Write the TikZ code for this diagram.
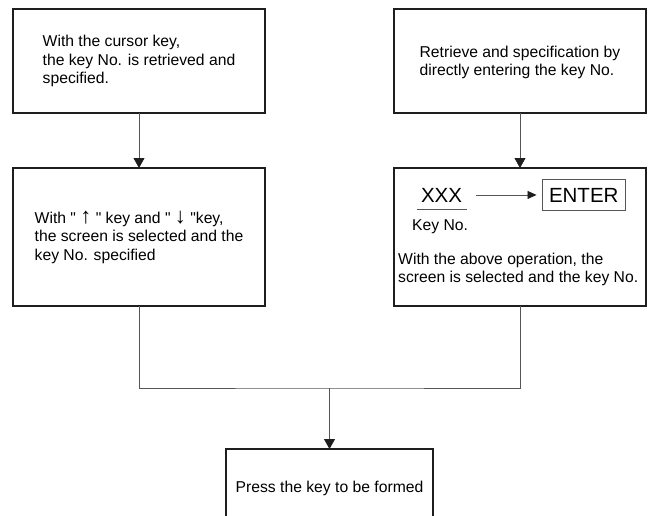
\documentclass[tikz,border=0pt]{standalone}
\usepackage{fontspec}
\setmainfont{Liberation Sans}[Ligatures=TeXOff]
\usetikzlibrary{positioning,arrows.meta,calc}
\definecolor{boxline}{HTML}{1E1E1E}
\definecolor{linkline}{HTML}{555555}
\newcommand\keyarrow[1]{{\fontsize{22pt}{18.5pt}\selectfont #1}}
\tikzset{
  stepbox/.style={draw=boxline,line width=1.3pt,outer sep=0pt,minimum width=252pt,
    align=left,font=\fontsize{15.7pt}{18.5pt}\selectfont},
  note/.style={inner sep=0pt,align=left,font=\fontsize{15.7pt}{18.5pt}\selectfont},
  bigtxt/.style={inner xsep=4.5pt,inner ysep=7pt,outer sep=0pt,font=\fontsize{20.5pt}{24pt}\selectfont},
  keybox/.style={draw=linkline,line width=0.8pt,inner xsep=6.5pt,inner ysep=8.6pt,outer sep=0pt,
    font=\fontsize{20.5pt}{24pt}\selectfont},
  link/.style={draw=linkline,line width=0.8pt},
  feed/.style={link,<-}
}

\begin{document}
\begin{tikzpicture}[x=1pt,y=1pt,>={Triangle[length=10pt,width=11pt,color=boxline]}]
          \path [use as bounding box] (0,0) rectangle (651,-515);
          \clip (0,0) rectangle (651,-515);
          \node [stepbox,minimum height=104pt] (cur1) at (139,-61)
            {With the cursor key,\\the key No. is retrieved and\\specified.};
          \node [stepbox,minimum height=104pt,text depth=0pt] (dir1) [right=129pt of cur1]
            {Retrieve and specification by\\directly entering the key No.};
          \node [stepbox,minimum height=138pt] (cur2) [below=55pt of cur1]
            {With " \keyarrow{↑} " key and " \keyarrow{↓} "key,\\the screen is selected and the\\key No. specified}
            edge [feed] (cur1);
          \node [stepbox,minimum height=138pt] (dir2) [below=55pt of dir1] {}
            edge [feed] (dir1);
          \node [bigtxt,anchor=base west] (xxx) at ([shift={(22.5,-34)}]dir2.north west) {XXX};
          \draw [link] (xxx.south west) -- (xxx.south east);
          \node [note,anchor=base west] (keyno) at ([shift={(18,-62)}]dir2.north west) {Key No.};
          \node [keybox] (enter) [right=76pt of xxx] {ENTER};
          \draw [link,-{Triangle[length=9pt,width=8pt,color=boxline]},shorten <=9.5pt,shorten >=6pt]
            (xxx) -- (enter);
          \node [note,anchor=north west] (oper) at ([shift={(4,-84.7)}]dir2.north west)
            {With the above operation, the\\screen is selected and the key No.};
          \coordinate (join) at ($(cur2.south)!0.5!(dir2.south)+(0,-82)$);
          \node [stepbox,minimum width=207pt,minimum height=78pt] (press) [below=61pt of join]
            {Press the key to be formed};
          \draw [link] (cur2.south) |- (join) -| (dir2.south);
          \draw [link,->] (join) -- (press);
        \end{tikzpicture}
\end{document}
